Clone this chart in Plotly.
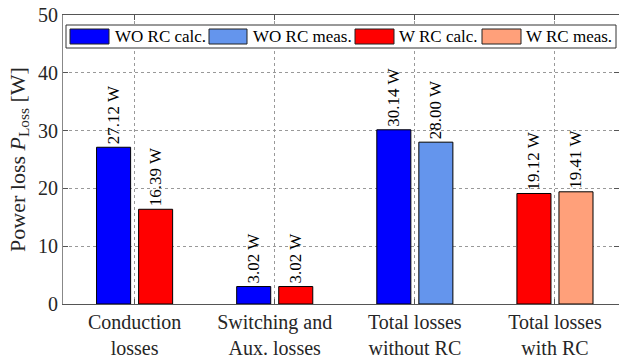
import plotly.graph_objects as go

categories = ["Conduction<br>losses", "Switching and<br>Aux. losses",
              "Total losses<br>without RC", "Total losses<br>with RC"]
wo_rc_calc = [27.12, 3.02, 30.14, None]
wo_rc_meas = [None, None, 28.00, None]
w_rc_calc = [16.39, 3.02, None, 19.12]
w_rc_meas = [None, None, None, 19.41]

series_names = ["WO RC calc.", "WO RC meas.", "W RC calc.", "W RC meas."]
colors = ["#0000FF", "#6495ED", "#FF0000", "#FFA07A"]

W, H = 619, 358
ML, MR, MT, MB = 63, 0, 15, 54
PW, PH = W - ML - MR, H - MT - MB

def px(x):
    return (x - ML) / PW

def py(y):
    return (H - MB - y) / PH

BW = 0.243
L = -0.15 - BW / 2
R = 0.15 - BW / 2
offsets = [[L, L, L, L], [R, R, R, R], [R, R, R, L], [R, R, R, R]]
values = [wo_rc_calc, wo_rc_meas, w_rc_calc, w_rc_meas]

FONT = "'Liberation Serif', 'Times New Roman', serif"
fig = go.Figure()
for name, vals, col, off in zip(series_names, values, colors, offsets):
    fig.add_trace(go.Bar(
        x=categories, y=vals, name=name, width=BW, offset=off,
        marker=dict(color=col, line=dict(color="black", width=1)),
        texttemplate="%{y:.2f} W", textposition="outside", textangle=-90,
        constraintext="none", cliponaxis=False,
        textfont=dict(family=FONT, size=17, color="black"),
        showlegend=False,
    ))

# manual legend
shapes = [dict(type="rect", xref="paper", yref="paper",
               x0=px(66), x1=px(616), y0=py(48), y1=py(25),
               fillcolor="white", line=dict(color="#333", width=1), layer="above")]
annotations = []
sw = [(70, 109, 113), (209, 247, 251), (355, 394, 397), (482, 521, 524)]
for (a, b, t), name, col in zip(sw, series_names, colors):
    shapes.append(dict(type="rect", xref="paper", yref="paper",
                       x0=px(a), x1=px(b), y0=py(44), y1=py(29),
                       fillcolor=col, line=dict(color="#222", width=1), layer="above"))
    annotations.append(dict(xref="paper", yref="paper", x=px(t), y=py(36.5),
                            text=name, showarrow=False, xanchor="left", yanchor="middle",
                            font=dict(family=FONT, size=17, color="black")))

fig.update_layout(
    width=W, height=H, margin=dict(l=ML, r=MR, t=MT, b=MB, autoexpand=False),
    plot_bgcolor="white", paper_bgcolor="white",
    barmode="overlay", shapes=shapes, annotations=annotations,
    font=dict(family=FONT, color="#262626"),
)
fig.update_xaxes(
    range=[-0.511, 3.457], showline=True, linecolor="#555", linewidth=1, mirror="ticks",
    ticks="inside", ticklen=5, tickcolor="#555", automargin=False,
    showgrid=True, gridcolor="#999", griddash="dot", gridwidth=1,
    tickfont=dict(family=FONT, size=20, color="#262626"),
)
fig.update_yaxes(
    range=[0, 50], dtick=10, showline=True, linecolor="#888", linewidth=1, mirror="ticks",
    ticks="inside", ticklen=5, tickcolor="#555", automargin=False,
    showgrid=True, gridcolor="#999", griddash="dot", gridwidth=1, zeroline=False,
    tickfont=dict(family=FONT, size=20, color="#262626"),
    title=dict(text="Power loss <i>P</i><sub>Loss</sub> [W]",
               font=dict(family=FONT, size=22, color="#262626"), standoff=6),
)

fig.write_html("out.html")
